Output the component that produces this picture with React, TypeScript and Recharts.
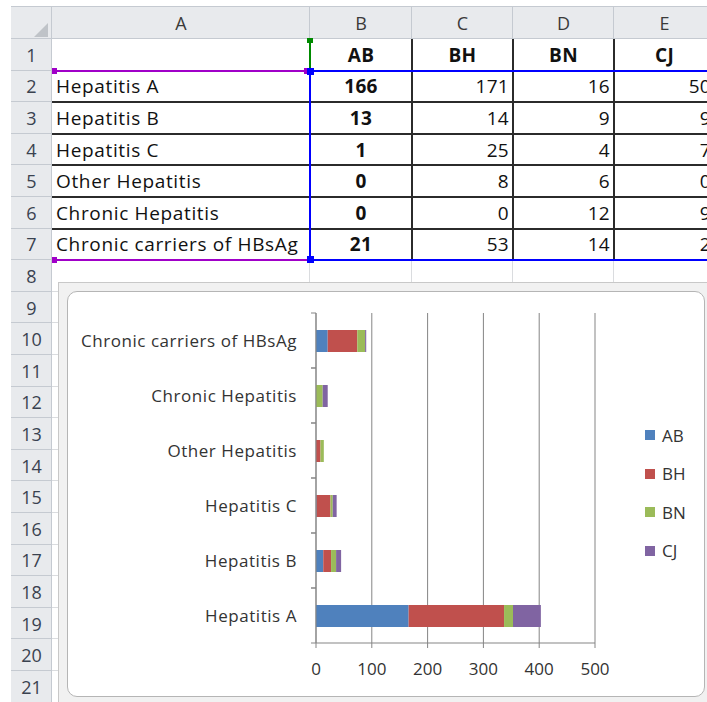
import { BarChart, Bar, XAxis, YAxis, CartesianGrid } from 'recharts';

// sheet / chart data
const categories = ['Hepatitis A', 'Hepatitis B', 'Hepatitis C', 'Other Hepatitis', 'Chronic Hepatitis', 'Chronic carriers of HBsAg'];
const abValues = [166, 13, 1, 0, 0, 21];
const bhValues = [171, 14, 25, 8, 0, 53];
const bnValues = [16, 9, 4, 6, 12, 14];
const cjValues = [50, 9, 7, 0, 9, 2];
const seriesNames = ['AB', 'BH', 'BN', 'CJ'];
const seriesColors = ['#4F81BD', '#C0504D', '#9BBB59', '#8064A2'];
const xTicks = [0, 100, 200, 300, 400, 500];
const colLetters = ['A', 'B', 'C', 'D', 'E'];

const seriesValues = [abValues, bhValues, bnValues, cjValues];
const chartData = categories.map((name, i) => {
    const row: any = { name };
    seriesNames.forEach((s, k) => (row[s] = seriesValues[k][i]));
    return row;
});

// sheet layout
const COL_X = [11, 52, 310, 412, 513, 614, 715];
const HEAD_TOP = 6;
const HEAD_BOTTOM = 39;
const ROW_H = 31.6;
const ROWS = 21;
const rowTop = (r: number) => HEAD_BOTTOM + (r - 1) * ROW_H;

const HEAD_BG = '#E8EAED';
const HEAD_LINE = '#C5CAD1';
const GRID = '#DADCDF';
const TABLE_LINE = '#2B2B2B';
const AXIS = '#858585';
const FONT = '"Open Sans", sans-serif';

// chart layout
const CH_W = 638;
const CH_H = 406;
const MARGIN = { top: 22, right: 110, bottom: 0, left: 0 };
const X_AXIS_H = 54;
const PLOT_H = CH_H - MARGIN.top - MARGIN.bottom - X_AXIS_H;
const BAND = PLOT_H / categories.length;

function CategoryTick(props: any) {
    const { x, y, payload } = props;
    return (
        <g>
            <line x1={x - 5} x2={x} y1={y - BAND / 2} y2={y - BAND / 2} stroke={AXIS} />
            <line x1={x - 5} x2={x} y1={y + BAND / 2} y2={y + BAND / 2} stroke={AXIS} />
            <text x={x - 19} y={y} dy="0.36em" textAnchor="end" fontSize={17} letterSpacing={0.55} fontFamily={FONT} fill="#333">
                {payload.value}
            </text>
        </g>
    );
}

const abs = (left: number, top: number, width: number, height: number, extra: any = {}) => ({
    position: 'absolute' as const, left, top, width, height, ...extra,
});

function Cell({ col, row, text, align, bold }: { col: number; row: number; text: string | number; align: 'left' | 'center' | 'right'; bold?: boolean }) {
    const x0 = COL_X[col + 1];
    const x1 = COL_X[col + 2];
    return (
        <div
            style={abs(x0, rowTop(row), x1 - x0, ROW_H, {
                display: 'flex', alignItems: 'center',
                justifyContent: align === 'left' ? 'flex-start' : align === 'right' ? 'flex-end' : 'center',
                padding: '0 4px', boxSizing: 'border-box',
                fontFamily: FONT, fontSize: 19, letterSpacing: align === 'left' ? 0.65 : 0.3, fontWeight: bold ? 700 : 400,
                color: '#111', whiteSpace: 'nowrap',
            })}
        >
            {text}
        </div>
    );
}

export default function App() {
    const rows = Array.from({ length: ROWS }, (_, i) => i + 1);
    return (
        <div style={{ position: 'absolute', left: 0, top: 0, width: 707, height: 702, overflow: 'hidden', background: '#fff' }}>
            {/* headers */}
            <div style={abs(COL_X[0], HEAD_TOP, 707, HEAD_BOTTOM - HEAD_TOP, { background: HEAD_BG, borderTop: `1px solid ${HEAD_LINE}`, borderBottom: `1px solid ${HEAD_LINE}`, boxSizing: 'border-box' })} />
            <div style={abs(COL_X[0], HEAD_BOTTOM, COL_X[1] - COL_X[0], 702 - HEAD_BOTTOM, { background: HEAD_BG, borderRight: `1px solid ${HEAD_LINE}`, boxSizing: 'border-box' })} />
            <div style={abs(COL_X[1] - 18, HEAD_BOTTOM - 16, 0, 0, { borderLeft: '14px solid transparent', borderBottom: '14px solid #BFC3C8' })} />
            {COL_X.slice(1).map((x) => (
                <div key={'ch' + x} style={abs(x - 1, HEAD_TOP, 1, HEAD_BOTTOM - HEAD_TOP, { background: HEAD_LINE })} />
            ))}
            {colLetters.map((c, i) => (
                <div key={c} style={abs(COL_X[i + 1], HEAD_TOP, COL_X[i + 2] - COL_X[i + 1], HEAD_BOTTOM - HEAD_TOP, { display: 'flex', alignItems: 'center', justifyContent: 'center', fontFamily: FONT, fontSize: 18, color: '#3a3a3a' })}>
                    {c}
                </div>
            ))}
            {rows.map((r) => (
                <div key={'rh' + r}>
                    <div style={abs(COL_X[0], rowTop(r + 1) - 1, COL_X[1] - COL_X[0], 1, { background: HEAD_LINE })} />
                    <div style={abs(COL_X[0], rowTop(r), COL_X[1] - COL_X[0], ROW_H, { display: 'flex', alignItems: 'center', justifyContent: 'center', fontFamily: FONT, fontSize: 18, color: '#3a4250' })}>
                        {r}
                    </div>
                    <div style={abs(COL_X[1], rowTop(r + 1) - 1, 707, 1, { background: GRID })} />
                </div>
            ))}
            {COL_X.slice(2).map((x) => (
                <div key={'gv' + x} style={abs(x - 1, HEAD_BOTTOM, 1, 702, { background: GRID })} />
            ))}

            {/* table borders A1:E7 */}
            {[2, 3, 4, 5, 6, 7, 8].map((r) => (
                <div key={'tb' + r} style={abs(COL_X[1], rowTop(r) - 1, 707, 2, { background: TABLE_LINE })} />
            ))}
            {COL_X.slice(2).map((x) => (
                <div key={'tv' + x} style={abs(x - 1, rowTop(1), 2, rowTop(8) - rowTop(1), { background: TABLE_LINE })} />
            ))}

            {/* cell values */}
            {seriesNames.map((s, k) => (
                <Cell key={'h' + s} col={k + 1} row={1} text={s} align="center" bold />
            ))}
            {categories.map((c, i) => (
                <div key={'r' + c}>
                    <Cell col={0} row={i + 2} text={c} align="left" />
                    {seriesValues.map((vals, k) => (
                        <Cell key={k} col={k + 1} row={i + 2} text={vals[i]} align={k === 0 ? 'center' : 'right'} bold={k === 0} />
                    ))}
                </div>
            ))}

            {/* range highlights */}
            <div style={abs(COL_X[2] - 1, rowTop(2) - 1, 420, rowTop(8) - rowTop(2) + 2, { border: '2px solid #0000FF', boxSizing: 'border-box' })} />
            <div style={abs(COL_X[1], rowTop(2) - 1, COL_X[2] - COL_X[1], 2, { background: '#A000C8' })} />
            <div style={abs(COL_X[1], rowTop(8) - 1, COL_X[2] - COL_X[1], 2, { background: '#A000C8' })} />
            <div style={abs(COL_X[2] - 1, rowTop(1), 2, ROW_H, { background: '#008A00' })} />
            <div style={abs(COL_X[2] - 3, rowTop(1) - 1, 6, 5, { background: '#008A00' })} />
            <div style={abs(COL_X[1], rowTop(2) - 3, 5, 6, { background: '#A000C8' })} />
            <div style={abs(COL_X[1], rowTop(8) - 3, 5, 6, { background: '#A000C8' })} />
            <div style={abs(COL_X[2] - 6, rowTop(2) - 3, 6, 6, { background: '#A000C8' })} />
            <div style={abs(COL_X[2] - 3, rowTop(2) - 3, 7, 7, { background: '#0000FF' })} />
            <div style={abs(COL_X[2] - 3, rowTop(8) - 4, 7, 7, { background: '#0000FF' })} />

            {/* chart object */}
            <div style={abs(58, 282, 700, 440, { background: '#F1F1F1', border: '1px solid #C8C8C8', boxSizing: 'border-box' })} />
            <div style={abs(67, 291, CH_W, CH_H, { background: '#fff', border: '1px solid #B5B5B5', borderRadius: 10, boxSizing: 'border-box' })} />
            <div style={abs(67, 291, CH_W, CH_H)}>
                <BarChart width={CH_W} height={CH_H} data={chartData} layout="vertical" margin={MARGIN}>
                    <CartesianGrid horizontal={false} stroke={AXIS} />
                    <XAxis
                        type="number"
                        domain={[0, 500]}
                        ticks={xTicks}
                        height={X_AXIS_H}
                        stroke={AXIS}
                        tickSize={5}
                        tickMargin={15}
                        tick={{ fontSize: 17, fill: '#333', fontFamily: FONT }}
                    />
                    <YAxis
                        type="category"
                        dataKey="name"
                        reversed
                        width={249}
                        stroke={AXIS}
                        tickLine={false}
                        tickSize={0}
                        tickMargin={0}
                        interval={0}
                        tick={<CategoryTick />}
                    />
                    {seriesNames.map((s, k) => (
                        <Bar key={s} dataKey={s} stackId="a" fill={seriesColors[k]} barSize={22} isAnimationActive={false} />
                    ))}
                </BarChart>
            </div>

            {/* legend */}
            {seriesNames.map((s, k) => (
                <div key={'lg' + s} style={abs(645, 423 + k * 38.5, 60, 24, { display: 'flex', alignItems: 'center', fontFamily: FONT, fontSize: 17, color: '#333' })}>
                    <span style={{ display: 'inline-block', width: 10, height: 10, background: seriesColors[k], marginRight: 7 }} />
                    {s}
                </div>
            ))}
        </div>
    );
}
